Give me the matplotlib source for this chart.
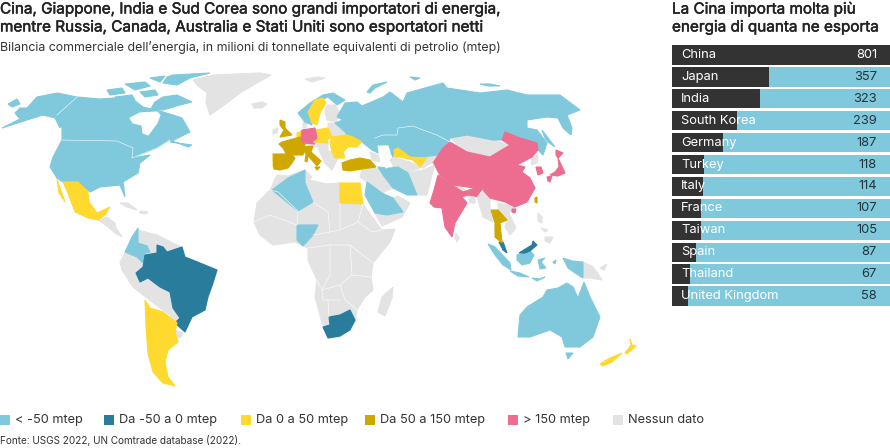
#Importing required libraries
import matplotlib.pyplot as plt
import matplotlib.patheffects as pe
from matplotlib.patches import Polygon, Rectangle

plt.rcParams['font.family'] = ['Inter', 'DejaVu Sans']

#Table on the right
countries = ['China', 'Japan', 'India', 'South Korea', 'Germany', 'Turkey', 'Italy', 'France',
             'Taiwan', 'Spain', 'Thailand', 'United Kingdom']
imports = [801, 357, 323, 239, 187, 118, 114, 107, 105, 87, 67, 58]

#Legend
legend_labels = ['< -50 mtep', 'Da -50 a 0 mtep', 'Da 0 a 50 mtep', 'Da 50 a 150 mtep', '> 150 mtep', 'Nessun dato']
legend_x = [0, 104, 241, 365, 508, 613]
BLUE, TEAL, YELLOW, GOLD, PINK, GREY = '#80c9dc', '#2a7c9c', '#ffd92e', '#cea800', '#ec6d90', '#e3e3e3'
legend_colors = [BLUE, TEAL, YELLOW, GOLD, PINK, GREY]

#Map outlines, one list per colour class
grey_shapes = [
    # Greenland, Iceland, Svalbard
    [(193,80),(213,75),(260,73),(271,75),(257,83),(240,93),(227,103),(210,115),(206,103),(207,93),(197,85)],
    [(252,104),(262,102),(267,104),(262,108),(254,108)],
    [(305,79),(318,77),(325,78),(312,82)],
    # Central America and Caribbean
    [(98,220),(107,217),(115,223),(116,228),(122,237),(115,233),(107,226)],
    [(120,203),(128,203),(137,210),(127,207)],
    [(140,211),(148,212),(146,214),(140,213)],
    # South America
    [(138,230),(157,235),(177,245),(183,248),(177,252),(167,252),(163,247),(157,245),(157,253),(145,255),(145,248),(138,243)],
    [(125,253),(137,258),(143,265),(136,273),(140,282),(148,278),(160,287),(170,292),(173,308),(180,318),(175,323),
     (170,315),(160,308),(147,298),(133,287),(122,270),(120,262)],
    [(175,330),(183,333),(180,338),(175,335)],
    # Africa
    [(277,175),(288,176),(305,170),(312,177),(309,180),(327,184),(340,183),(363,204),(378,225),(382,230),(395,229),
     (390,242),(373,263),(371,277),(373,290),(365,297),(357,310),(355,323),(340,337),(328,338),(322,323),(315,297),
     (317,280),(308,260),(308,248),(295,242),(273,245),(260,235),(254,222),(257,203),(270,190)],
    [(393,287),(392,298),(385,316),(378,312),(382,297)],
    # Middle East and central Asia
    [(362,170),(378,168),(383,175),(393,188),(382,193),(367,182),(360,177)],
    [(375,213),(387,215),(403,212),(393,198),(398,196),(410,203),(402,217),(382,226)],
    [(393,157),(413,163),(420,168),(407,173),(393,167),(390,160)],
    [(408,173),(423,170),(435,165),(432,175),(427,195),(417,195)],
    [(413,160),(423,157),(437,155),(433,162),(423,168),(420,167)],
    [(370,152),(378,155),(380,162),(372,160)],
    [(450,138),(467,135),(493,140),(510,145),(490,157),(467,152)],
    # Europe
    [(273,130),(278,128),(277,133),(273,134)],
    [(327,105),(335,105),(340,113),(336,122),(327,120),(325,112)],
    [(328,123),(335,123),(345,132),(347,135),(332,137),(328,128)],
    [(303,122),(307,122),(306,128),(303,128)],
    [(302,143),(315,142),(328,143),(328,152),(318,147),(310,146)],
    [(318,148),(332,152),(342,153),(337,160),(332,170),(325,163)],
    # South and east Asia
    [(450,185),(462,188),(470,193),(465,195),(450,190)],
    [(468,195),(475,198),(475,203),(470,203)],
    [(477,197),(485,190),(490,198),(490,210),(493,222),(483,217),(480,207)],
    [(498,203),(515,207),(509,213),(516,228),(510,235),(505,227),(507,220),(498,210)],
    [(532,157),(538,155),(537,163),(531,165)],
    [(456,233),(459,238),(457,242),(455,238)],
    [(538,213),(542,217),(542,223),(538,221)],
    [(545,237),(553,237),(550,243),(545,241)],
    [(541,228),(548,230),(545,232)],
    [(583,262),(592,266),(597,272),(602,280),(590,278),(584,278)],
    [(600,268),(607,264),(604,270)],
    # small blob inside South Africa
    [(345,325),(348,325),(347,329),(344,328)],
]
blue_shapes = [
    # Alaska, Canada, USA
    [(2,128),(20,119),(15,113),(20,108),(27,108),(37,97),(57,93),(77,97),(57,115),(62,120),(60,128),(55,118),(43,115),(27,120)],
    [(77,97),(100,99),(130,97),(143,107),(163,112),(173,115),(182,118),(190,132),(170,142),(192,145),(188,147),(170,140),
     (157,148),(132,158),(133,148),(117,141),(62,140),(62,128),(60,120),(57,115)],
    [(62,140),(117,141),(133,148),(132,158),(150,155),(140,163),(138,173),(123,182),(125,197),(120,185),(100,187),(90,192),
     (78,182),(63,182),(57,178),(50,167),(53,157)],
    # Arctic islands
    [(173,75),(210,73),(190,78),(177,85),(163,83),(167,77)],
    [(163,97),(177,95),(192,102),(180,105),(163,110),(150,110),(155,102)],
    [(107,90),(122,88),(125,93),(110,95)],
    [(115,97),(132,95),(135,100),(120,102)],
    [(125,84),(145,82),(150,86),(135,90)],
    [(140,92),(155,90),(158,95),(145,97)],
    [(150,78),(165,76),(160,82)],
    [(8,104),(17,99),(20,104),(12,107)],
    # Colombia
    [(138,228),(132,237),(125,252),(137,257),(143,263),(145,253),(150,252),(147,246),(138,243)],
    # Algeria, Nigeria
    [(272,190),(288,178),(305,170),(305,183),(313,202),(298,211)],
    [(297,225),(318,225),(313,235),(303,246),(297,240)],
    # Saudi Arabia, Iran
    [(367,182),(382,193),(393,198),(403,212),(387,215),(375,213),(365,195)],
    [(378,167),(390,168),(398,167),(408,173),(417,195),(407,195),(393,188),(383,175)],
    # Norway
    [(298,113),(310,103),(323,95),(333,93),(345,100),(337,105),(328,97),(315,103),(308,113),(312,125),(305,122)],
    # Russia and Kazakhstan
    [(337,117),(345,103),(357,102),(362,106),(383,97),(390,92),(403,102),(407,93),(443,83),(447,88),(480,93),(507,90),
     (527,95),(560,95),(580,110),(567,115),(572,128),(571,135),(563,128),(558,118),(547,117),(527,120),(527,128),(537,130),
     (547,143),(543,155),(538,150),(537,143),(520,138),(505,132),(502,140),(493,140),(467,135),(450,138),(447,150),(437,155),
     (423,157),(410,157),(398,148),(394,150),(393,157),(387,145),(377,145),(378,153),(372,150),(362,142),(353,137),(347,135),
     (345,132),(335,123),(343,120)],
    [(367,92),(373,85),(387,82),(375,88),(370,93)],
    [(410,77),(420,78),(415,80)],
    [(480,84),(490,84),(500,86),(488,86)],
    [(542,130),(555,147),(548,142),(545,138)],
    # Indonesia
    [(488,244),(495,247),(510,263),(511,270),(503,265),(495,255)],
    [(510,271),(520,273),(529,277),(518,276)],
    [(517,255),(525,253),(530,251),(534,255),(530,263),(522,265),(517,260)],
    [(538,260),(545,258),(541,262),(546,268),(540,269),(539,264)],
    [(563,258),(572,261),(583,262),(583,278),(575,273),(568,268)],
    [(532,278),(540,279),(545,277),(537,281)],
    [(553,262),(556,260),(555,264)],
    # Australia and Tasmania
    [(518,337),(520,315),(527,307),(543,297),(547,290),(558,288),(567,283),(573,287),(578,298),(584,282),(590,297),(600,317),
     (593,337),(580,347),(565,347),(562,337),(550,330),(530,337)],
    [(566,353),(573,353),(568,359)],
]
teal_shapes = [
    # Brazil
    [(136,273),(143,267),(145,255),(157,253),(157,245),(163,247),(167,252),(182,247),(185,257),(200,263),(217,270),(213,283),
     (208,297),(205,310),(192,317),(185,332),(175,323),(180,318),(173,308),(170,292),(160,287),(148,278),(140,282)],
    # South Africa
    [(329,317),(340,315),(350,310),(355,320),(350,330),(340,336),(328,338),(323,327),(330,325)],
    # Malaysia
    [(499,242),(503,242),(507,253),(503,250)],
    [(519,253),(532,245),(533,241),(537,245),(530,251),(525,253)],
]
yellow_shapes = [
    # Mexico
    [(57,179),(60,188),(65,202),(59,193)],
    [(63,182),(78,182),(88,192),(89,202),(97,213),(110,207),(105,215),(98,220),(88,218),(75,212),(68,193)],
    # Argentina and Chile
    [(145,300),(150,308),(163,312),(177,323),(175,332),(178,342),(168,350),(165,362),(168,377),(175,386),(163,383),(153,372),
     (148,353),(146,327)],
    # Egypt
    [(340,183),(360,183),(363,204),(340,203)],
    # Sweden, Poland, Ukraine, Romania, Bulgaria, Czechia, Benelux, Portugal
    [(308,112),(315,100),(323,98),(326,103),(320,113),(317,125),(312,123)],
    [(315,130),(328,128),(332,137),(327,140),(318,138)],
    [(332,137),(347,135),(353,137),(362,142),(357,147),(348,147),(343,152),(342,143),(330,142)],
    [(330,143),(342,143),(343,152),(345,158),(335,158),(332,152)],
    [(313,137),(327,140),(328,143),(315,142)],
    [(297,133),(302,131),(302,140),(297,137)],
    [(273,158),(277,158),(277,168),(273,167)],
    # Uzbekistan
    [(394,150),(398,148),(410,157),(427,158),(420,167),(413,160),(400,157),(395,157)],
    # New Zealand
    [(630,339),(632,345),(636,346),(627,354),(625,353),(631,345)],
    [(622,353),(612,362),(603,366),(600,364),(610,358)],
]
gold_shapes = [
    # UK, France, Spain, Italy, Turkey
    [(280,120),(285,122),(285,128),(292,135),(280,137),(284,130),(280,125)],
    [(282,142),(300,137),(305,145),(303,155),(287,155),(283,148),(279,144)],
    [(273,154),(291,154),(295,158),(292,163),(288,168),(280,170),(274,169)],
    [(303,147),(313,146),(311,152),(321,161),(317,166),(310,158),(305,153)],
    [(306,155),(308,155),(307,162),(305,161)],
    [(315,167),(320,167),(317,170)],
    [(342,163),(350,160),(360,158),(370,160),(376,167),(362,169),(350,171),(343,170)],
    # Thailand, Taiwan
    [(491,210),(498,210),(507,220),(500,223),(502,243),(495,237),(495,223)],
    [(535,198),(537,197),(537,203),(535,202)],
]
pink_shapes = [
    # Germany
    [(302,130),(315,128),(317,138),(312,142),(315,144),(303,143),(301,138)],
    # China, Hainan
    [(433,163),(443,148),(450,142),(467,152),(490,157),(510,145),(502,140),(505,132),(520,138),(537,143),(538,150),(532,157),
     (517,165),(525,167),(522,172),(530,178),(535,188),(527,202),(515,207),(505,202),(490,198),(483,190),(475,188),(452,185),(440,175)],
    [(512,209),(516,209),(515,213),(512,212)],
    # India
    [(430,203),(434,190),(438,175),(452,185),(463,192),(475,188),(483,188),(477,197),(474,196),(468,195),(462,197),(467,203),
     (455,223),(452,237),(445,227),(442,208),(434,207)],
    # Korea and Japan
    [(536,167),(541,167),(543,173),(538,175)],
    [(556,150),(563,153),(558,158),(556,155)],
    [(558,158),(565,173),(558,176),(550,175),(555,172),(559,167)],
    [(547,177),(552,176),(550,182),(548,181)],
]
water_shapes = [
    # Hudson Bay, Caspian Sea
    [(130,118),(140,113),(157,112),(160,115),(157,123),(148,135),(143,133),(142,125),(133,123)],
    [(378,147),(388,146),(390,152),(385,156),(392,165),(386,168),(382,160),(384,152)],
]
#White border lines
border_lines = [
    [(77,97),(57,115)],
    [(62,140),(117,141),(133,148),(132,158),(157,148),(170,140)],
    [(375,138),(383,135),(397,135),(398,128),(413,126),(423,130),(437,135),(450,142)],
    [(270,190),(278,192),(298,211),(297,225)],
    [(254,222),(270,215),(297,225)],
    [(313,202),(328,212),(330,232),(313,235)],
    [(340,203),(340,230),(330,232)],
    [(363,204),(358,222),(372,232),(382,230)],
    [(340,230),(358,222)],
    [(308,248),(330,245),(350,245),(373,263)],
    [(330,245),(330,275),(322,290),(317,280)],
    [(350,245),(352,275),(340,285),(322,290)],
    [(352,275),(371,277)],
    [(340,285),(345,300),(357,310)],
    [(322,290),(323,300),(340,300)],
    [(329,317),(328,300)],
    [(438,175),(433,163)],
    [(483,190),(477,197)],
]


def draw_map(ax):
    #Drawing every country group in its legend colour, then water and borders on top
    groups = [(grey_shapes, GREY), (blue_shapes, BLUE), (teal_shapes, TEAL), (yellow_shapes, YELLOW),
              (gold_shapes, GOLD), (pink_shapes, PINK), (water_shapes, 'white')]
    for shapes, color in groups:
        for shape in shapes:
            ax.add_patch(Polygon(shape, closed=True, facecolor=color, edgecolor=color, linewidth=0.8))
    for line in border_lines:
        ax.plot([p[0] for p in line], [p[1] for p in line], color='white', linewidth=0.4)


def draw_table(ax):
    #Full blue row behind and dark bar with the import value
    rows = range(len(countries))
    ax.barh(rows, [max(imports)] * len(imports), height=0.88, color=BLUE)
    ax.barh(rows, imports, height=0.88, color='#333333')
    for i in rows:
        ax.text(9 * 801 / 218, i, countries[i], color='white', fontsize=9.3, va='center', ha='left')
        ax.text(205 * 801 / 218, i, str(imports[i]), color='white' if i == 0 else '#23343c', fontsize=9.3,
                va='center', ha='right')
    ax.set_xlim(0, 801)
    ax.set_ylim(len(countries) - 0.5, -0.5)
    ax.axis('off')


fig = plt.figure(figsize=(8.9, 4.48), dpi=100)
ax = fig.add_axes([0, 0, 1, 1])
ax.set_xlim(0, 890)
ax.set_ylim(448, 0)
ax.axis('off')
draw_map(ax)

#Titles get a thin stroke so they look medium weight
heavy = [pe.withStroke(linewidth=0.35, foreground='#222222')]
ax.text(0, 9, 'Cina, Giappone, India e Sud Corea sono grandi importatori di energia,', fontsize=11,
        color='#222222', va='center', path_effects=heavy)
ax.text(0, 27, 'mentre Russia, Canada, Australia e Stati Uniti sono esportatori netti', fontsize=11,
        color='#222222', va='center', path_effects=heavy)
ax.text(0, 47, "Bilancia commerciale dell’energia, in milioni di tonnellate equivalenti di petrolio (mtep)",
        fontsize=8.9, color='#333333', va='center')
ax.text(672, 9, 'La Cina importa molta più', fontsize=11, color='#222222', va='center', path_effects=heavy)
ax.text(672, 27, 'energia di quanta ne esporta', fontsize=11, color='#222222', va='center', path_effects=heavy)

for x, label, color in zip(legend_x, legend_labels, legend_colors):
    ax.add_patch(Rectangle((x, 415), 10, 10, facecolor=color, edgecolor='none'))
    ax.text(x + 15, 420, label, fontsize=9.2, color='#333333', va='center')
ax.text(0, 440, 'Fonte: USGS 2022, UN Comtrade database (2022).', fontsize=7.2, color='#333333', va='center')

table_ax = fig.add_axes([672 / 890, 1 - 307 / 448, 218 / 890, 263 / 448])
draw_table(table_ax)

plt.savefig('out.png', dpi=100)
